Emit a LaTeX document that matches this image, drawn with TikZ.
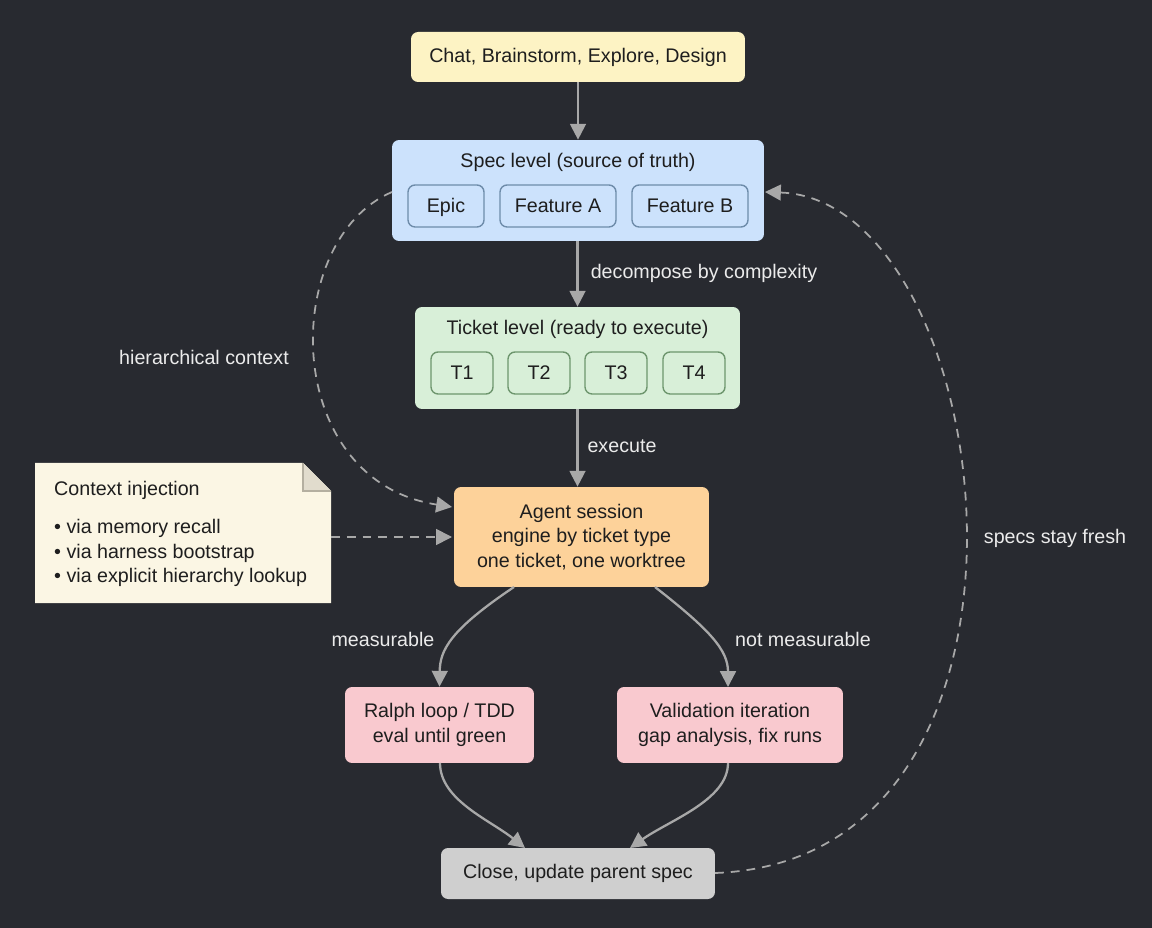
\documentclass[tikz,border=0pt]{standalone}
\usepackage{fontspec}
\setmainfont{Liberation Sans}
\usetikzlibrary{arrows.meta}
\definecolor{bg}{HTML}{282A30}
\definecolor{arr}{HTML}{A8A8A8}
\definecolor{txt}{HTML}{1E1E1E}
\definecolor{cyel}{RGB}{253,243,196}
\definecolor{cblue}{RGB}{204,226,252}
\definecolor{cbluel}{RGB}{110,140,170}
\definecolor{cgreen}{RGB}{216,239,216}
\definecolor{cgreenl}{RGB}{110,150,110}
\definecolor{corange}{RGB}{253,210,154}
\definecolor{cnote}{RGB}{251,246,228}
\definecolor{cfold}{RGB}{225,220,205}
\definecolor{cfoldl}{RGB}{180,175,160}
\definecolor{cpink}{RGB}{249,201,207}
\definecolor{cgray}{RGB}{207,207,207}
\begin{document}
\begin{tikzpicture}[x=0.02cm,y=-0.02cm,
 fs/.style={font=\fontsize{11.2}{14}\selectfont},
 box/.style={draw=none,rounded corners=4pt,text=txt,fs,align=center,inner sep=0},
 sub/.style={draw=#1,rounded corners=4pt,text=txt,fs,line width=0.8pt,inner sep=0,text depth=0.25ex,text height=1.6ex},
 ar/.style={draw=arr,line width=1.3pt,-{Triangle[length=9pt,width=9pt]}},
 da/.style={ar,line width=1pt,dash pattern=on 5pt off 4pt},
 lab/.style={text=white!92!black,fs}]
\fill[bg] (0,0) rectangle (1152,928);
\useasboundingbox (0,0) rectangle (1152,928);
\node[box,fill=cyel,minimum width=6.68cm,minimum height=1cm] (top) at (578,57) {Chat, Brainstorm, Explore, Design};
\node[box,fill=cblue,minimum width=7.44cm,minimum height=2.02cm] (spec) at (578,190.5) {};
\node[lab,text=txt] (spect) at (578,162) {Spec level (source of truth)};
\node[sub=cbluel,minimum width=1.52cm,minimum height=0.84cm] (epic) at (446,206) {Epic};
\node[sub=cbluel,minimum width=2.32cm,minimum height=0.84cm] (fa) at (558,206) {Feature A};
\node[sub=cbluel,minimum width=2.32cm,minimum height=0.84cm] (fb) at (690,206) {Feature B};
\node[box,fill=cgreen,minimum width=6.5cm,minimum height=2.04cm] (tick) at (577.5,358) {};
\node[lab,text=txt] (tickt) at (577.5,329) {Ticket level (ready to execute)};
\foreach \n/\x in {T1/462,T2/539,T3/616,T4/694}
 \node[sub=cgreenl,minimum width=1.24cm,minimum height=0.84cm] (\n) at (\x,373) {\n};
\node[box,fill=corange,minimum width=5.1cm,minimum height=2cm] (agent) at (581.5,537) {Agent session\\engine by ticket type\\one ticket, one worktree};
\fill[cnote] (35,463) -- (303,463) -- (331,491) -- (331,603) -- (35,603) -- cycle;
\draw[fill=cfold,draw=cfoldl,line width=0.6pt] (303,463) -- (303,491) -- (331,491);
\node[lab,text=txt,anchor=west] (nt) at (48,490) {Context injection};
\node[lab,text=txt,anchor=west,align=left] (nl) at (48,553) {\textbullet\ via memory recall\\\textbullet\ via harness bootstrap\\\textbullet\ via explicit hierarchy lookup};
\coordinate (note) at (331,537);
\node[box,fill=cpink,minimum width=3.78cm,minimum height=1.52cm] (ralph) at (439.5,725) {Ralph loop / TDD\\eval until green};
\node[box,fill=cpink,minimum width=4.52cm,minimum height=1.52cm] (val) at (730,725) {Validation iteration\\gap analysis, fix runs};
\node[box,fill=cgray,minimum width=5.48cm,minimum height=1.02cm] (close) at (578,873.5) {Close, update parent spec};
\draw[ar] (top) -- (spec);
\draw[ar] (spec.south -| tick) -- (tick.north);
\draw[ar] (tick.south) -- (tick.south |- agent.north);
\node[lab] (l1) at (704,273) {decompose by complexity};
\node[lab] (l2) at (622,446) {execute};
\draw[ar] (514,587) .. controls (450,630) and (440,650) .. (ralph.north);
\draw[ar] (655,587) .. controls (710,630) and (728,650) .. (728,687);
\node[lab] (l3) at (383,639) {measurable};
\node[lab] (l4) at (803,639) {not measurable};
\draw[ar] (440,763) .. controls (440,800) and (490,820) .. (525,848);
\draw[ar] (728,763) .. controls (728,800) and (670,820) .. (630,848);
\draw[da] (392,192) .. controls (280,240) and (280,480) .. (452,507);
\node[lab] (l5) at (204,357) {hierarchical context};
\draw[da] (note) -- (452,537);
\draw[da] (715,873) .. controls (1080,860) and (1000,200) .. (765,192);
\node[lab] (l6) at (1055,538) {specs stay fresh};
\end{tikzpicture}
\end{document}
